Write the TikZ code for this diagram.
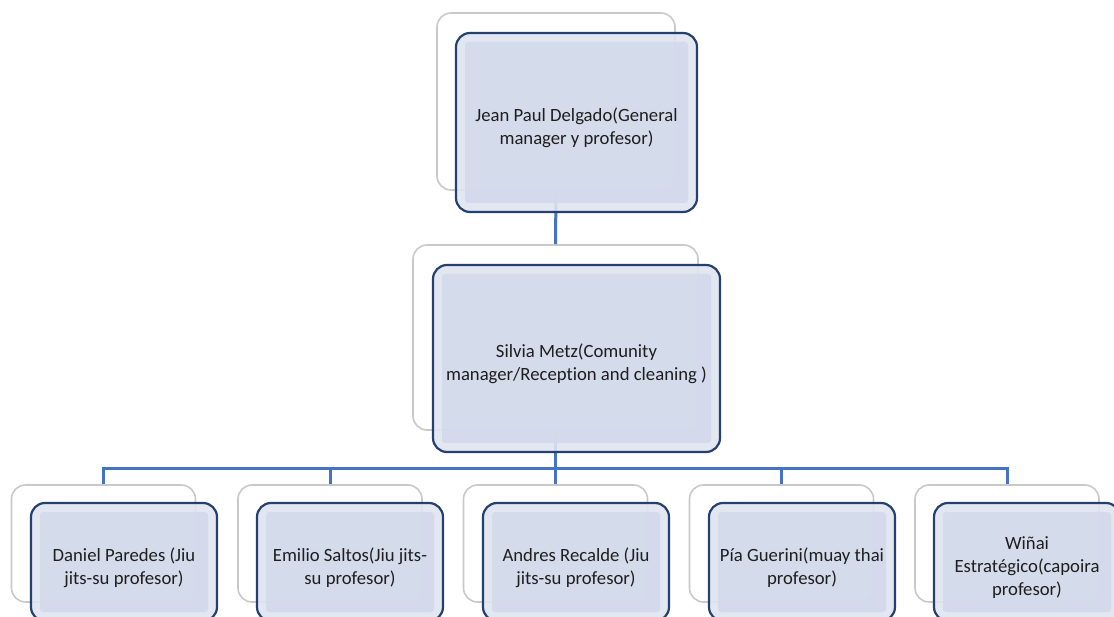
\documentclass[tikz,border=0pt]{standalone}
\usepackage{fontspec}
\setmainfont[Ligatures=NoCommon]{Carlito}
\definecolor{connblue}{HTML}{4472C4}
\definecolor{navyedge}{HTML}{24406E}
\definecolor{bandfill}{HTML}{DFE4EF}
\definecolor{innerfill}{HTML}{D3DAEB}
\definecolor{backedge}{HTML}{C9C9C9}
\definecolor{txt}{HTML}{1E1E1E}
\newcommand{\boxtext}[1]{\raisebox{-10.5pt}[0pt][0pt]{\begin{tabular}{@{}c@{}}#1\end{tabular}}}
\tikzset{
  backbox/.style={rounded corners=14pt, fill=white, draw=backedge, line width=1.6pt, inner sep=0pt},
  frontbox/.style={rounded corners=14pt, fill=bandfill, draw=navyedge, line width=2.2pt, inner sep=0pt,
    fill opacity=0.9, text opacity=1, align=center, text=txt,
    font=\fontsize{18.7pt}{22.8pt}\selectfont,
    path picture={\fill[innerfill, rounded corners=3pt] ([shift={(9pt,-9pt)}]path picture bounding box.north west) rectangle ([shift={(-9pt,9pt)}]path picture bounding box.south east);}},
  conn/.style={draw=connblue, line width=3pt}
}
\begin{document}
\begin{tikzpicture}[x=1pt,y=-1pt]
\useasboundingbox (0,0) rectangle (1114,617);
% back boxes
\node[backbox, minimum width=238pt, minimum height=177pt] (tb) at (556,101.5) {};
\node[backbox, minimum width=285pt, minimum height=185pt] (mb) at (555.5,337.5) {};
\foreach \i/\x in {1/103.5,2/330,3/555.5,4/781.5,5/1007}{
  \node[backbox, minimum width=184pt, minimum height=117pt] (b\i) at (\x,543.5) {};
}
% connectors
\coordinate (bus) at (555.5,468);
\draw[conn] (tb.south) -- (mb.north);
\draw[conn] (mb.south) -- (bus);
\foreach \i in {1,...,5}{
  \draw[conn] (bus) -| (b\i.north);
}
% front boxes
\node[frontbox, minimum width=241pt, minimum height=179pt] (tf) at (576.5,122.5) {\boxtext{Jean Paul Delgado(General\\manager y profesor)}};
\node[frontbox, minimum width=287pt, minimum height=187pt] (mf) at (576.5,358.5) {\boxtext{Silvia Metz(Comunity\\manager/Reception and cleaning )}};
\node[frontbox, minimum width=186pt, minimum height=118pt] (f1) at (124,562) {\boxtext{Daniel Paredes (Jiu\\jits-su profesor)}};
\node[frontbox, minimum width=186pt, minimum height=118pt] (f2) at (350,562) {\boxtext{Emilio Saltos(Jiu jits-\\su profesor)}};
\node[frontbox, minimum width=186pt, minimum height=118pt] (f3) at (576,562) {\boxtext{Andres Recalde (Jiu\\jits-su profesor)}};
\node[frontbox, minimum width=186pt, minimum height=118pt] (f4) at (802,562) {\boxtext{Pía Guerini(muay thai\\profesor)}};
\node[frontbox, minimum width=186pt, minimum height=118pt] (f5) at (1027,562) {\boxtext{Wiñai\\Estratégico(capoira\\profesor)}};
\end{tikzpicture}
\end{document}
